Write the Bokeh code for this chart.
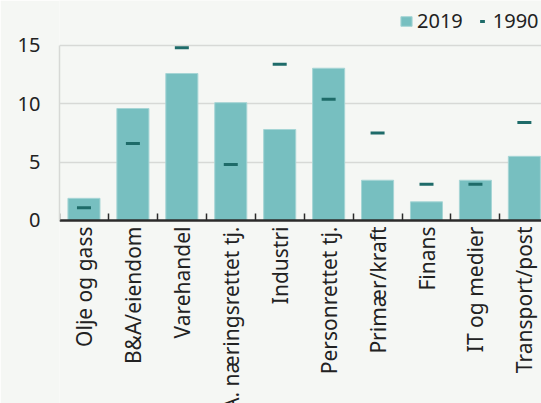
import numpy as np
from bokeh.plotting import figure
from bokeh.models import (ColumnDataSource, Range1d, FixedTicker, Legend, LegendItem)
from bokeh.core.properties import value
from bokeh.embed import file_html
from bokeh.resources import INLINE

categories = ["Olje og gass", "B&A/eiendom", "Varehandel", "A. næringsrettet tj.",
              "Industri", "Personrettet tj.", "Primær/kraft", "Finans",
              "IT og medier", "Transport/post"]
values_2019 = [1.9, 9.6, 12.6, 10.1, 7.8, 13.05, 3.45, 1.6, 3.45, 5.5]
values_1990 = [1.1, 6.6, 14.8, 4.8, 13.4, 10.4, 7.5, 3.1, 3.1, 8.4]
y_ticks = [0, 5, 10, 15]

FONT = "Noto Sans"
BG = "#f5f7f4"
BAR = "#77bfc0"
DASH = "#1e6b69"
GRID = "#d7d9d6"
TXT = "#222222"

xpos = list(range(len(categories)))
src = ColumnDataSource(dict(x=xpos, cat=categories, v2019=values_2019,
                            v1990=values_1990, base=[0] * len(categories)))

# frame spans the whole canvas height: 0 at y=220px, 15 at y=45px
p = figure(width=541, height=403, output_backend="svg", toolbar_location=None,
           x_range=Range1d(-0.5, 9.35), y_range=Range1d(-15.686, 18.857))
p.min_border_left = 59
p.min_border_right = 0
p.min_border_top = 0
p.min_border_bottom = 0
p.background_fill_color = BG
p.border_fill_color = BG
p.outline_line_color = None

bars = p.vbar(x="x", top="v2019", width=0.655, source=src, fill_color=BAR,
              line_color="#a6d5d5", line_width=1)
dashes = p.scatter(x="x", y="v1990", marker="dash", size=14, line_width=3,
                   line_color=DASH, source=src)

# x axis at y=0 with ticks at the category boundaries
p.xaxis.fixed_location = 0
p.xaxis.ticker = FixedTicker(ticks=[i - 0.5 for i in range(len(categories) + 1)])
p.xaxis.major_label_overrides = {i - 0.5: "" for i in range(len(categories) + 1)}
p.xaxis.major_label_text_font_size = "0px"
p.xaxis.major_label_standoff = 0
p.xaxis.major_tick_in = 7
p.xaxis.major_tick_out = 0
p.xaxis.minor_tick_line_color = None
p.xaxis.axis_line_color = "#2b2b2b"
p.xaxis.axis_line_width = 2.5
p.xaxis.major_tick_line_color = "#2b2b2b"
p.xaxis.major_tick_line_width = 1.5

p.yaxis.ticker = FixedTicker(ticks=y_ticks)
p.yaxis.bounds = (0, 15)
p.yaxis.major_tick_line_color = None
p.yaxis.minor_tick_line_color = None
p.yaxis.axis_line_color = GRID
p.yaxis.axis_line_width = 1.5
p.yaxis.major_label_text_font = FONT
p.yaxis.major_label_text_font_size = "20px"
p.yaxis.major_label_text_color = TXT
p.yaxis.major_label_standoff = 13

p.xgrid.grid_line_color = None
p.ygrid.ticker = FixedTicker(ticks=[5, 10, 15])
p.ygrid.grid_line_color = GRID
p.ygrid.grid_line_width = 1.5

# category labels below the axis
p.text(x="x", y="base", text="cat", source=src, angle=np.pi / 2,
       text_align="right", text_baseline="middle", y_offset=6,
       text_font=value(FONT), text_font_size="21px", text_color=TXT)

legend = Legend(items=[LegendItem(label="2019", renderers=[bars]),
                       LegendItem(label="1990", renderers=[dashes])],
                location=(340, 369), orientation="horizontal")
legend.label_text_font = FONT
legend.label_text_font_size = "20px"
legend.label_text_color = TXT
legend.glyph_width = 14
legend.glyph_height = 12
legend.label_height = 12
legend.label_standoff = 4
legend.spacing = 12
legend.padding = 0
legend.margin = 0
legend.background_fill_alpha = 0
legend.border_line_color = None
p.add_layout(legend, "center")

open("out.html", "w").write(file_html(p, INLINE))
